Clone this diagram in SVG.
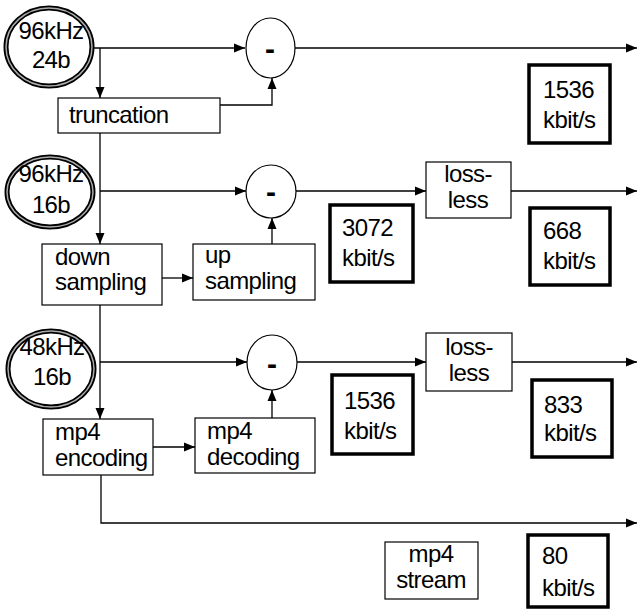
<svg xmlns="http://www.w3.org/2000/svg" width="639" height="614" viewBox="0 0 639 614">
<style>
text{font-family:"Liberation Sans",Arial,sans-serif;font-size:24px;letter-spacing:-0.6px;fill:#000}
.c{text-anchor:middle}
.box{fill:#fff;stroke:#000;stroke-width:1.2}
.rate{fill:#fff;stroke:#000;stroke-width:3.5}
.src{fill:none;stroke:#000;stroke-width:5}
.srcin{fill:none;stroke:#aaa;stroke-width:1.5}
.op{fill:#fff;stroke:#000;stroke-width:1.2}
.minus{font-weight:bold;font-size:30px;letter-spacing:0;text-anchor:middle}
.ln{fill:none;stroke:#000;stroke-width:1.3}
</style>
<defs>
<marker id="ah" markerUnits="userSpaceOnUse" markerWidth="12" markerHeight="10" refX="11" refY="5" orient="auto">
<path d="M0,0.5 L11,5 L0,9.5 Z" fill="#000"/>
</marker>
</defs>
<rect width="639" height="614" fill="#fff"/>
<g id="connectors">
<path class="ln" d="M93,48 H245" marker-end="url(#ah)"/>
<path class="ln" d="M295,48 H637" marker-end="url(#ah)"/>
<path class="ln" d="M100,48 V98" marker-end="url(#ah)"/>
<path class="ln" d="M220,105 H272 V78" marker-end="url(#ah)"/>
<path class="ln" d="M100,133 V244" marker-end="url(#ah)"/>
<path class="ln" d="M100,191 H246" marker-end="url(#ah)"/>
<path class="ln" d="M162,278 H193" marker-end="url(#ah)"/>
<path class="ln" d="M272,244 V218" marker-end="url(#ah)"/>
<path class="ln" d="M296,191 H426" marker-end="url(#ah)"/>
<path class="ln" d="M511,191 H637" marker-end="url(#ah)"/>
<path class="ln" d="M100,305 V419" marker-end="url(#ah)"/>
<path class="ln" d="M100,362 H247" marker-end="url(#ah)"/>
<path class="ln" d="M153,447 H195" marker-end="url(#ah)"/>
<path class="ln" d="M272,418 V390" marker-end="url(#ah)"/>
<path class="ln" d="M297,362 H426" marker-end="url(#ah)"/>
<path class="ln" d="M512,362 H637" marker-end="url(#ah)"/>
<path class="ln" d="M101,475 V523 H637" marker-end="url(#ah)"/>
</g>
<g id="src1">
<ellipse class="src" cx="49" cy="47" rx="43" ry="39"/>
<ellipse class="srcin" cx="49" cy="47" rx="43" ry="39"/>
<text class="c" x="51" y="39">96kHz</text>
<text class="c" x="51" y="68">24b</text>
</g>
<g id="src2">
<ellipse class="src" cx="50" cy="192" rx="43" ry="35"/>
<ellipse class="srcin" cx="50" cy="192" rx="43" ry="35"/>
<text class="c" x="51" y="182">96kHz</text>
<text class="c" x="51" y="213">16b</text>
</g>
<g id="src3">
<ellipse class="src" cx="51" cy="369" rx="43" ry="38"/>
<ellipse class="srcin" cx="51" cy="369" rx="43" ry="38"/>
<text class="c" x="52" y="355">48kHz</text>
<text class="c" x="52" y="385">16b</text>
</g>
<g id="sub1">
<ellipse class="op" cx="270.5" cy="48" rx="24.5" ry="30"/>
<text class="minus" x="270" y="59">-</text>
</g>
<g id="sub2">
<ellipse class="op" cx="271" cy="191.5" rx="25" ry="26.5"/>
<text class="minus" x="271" y="202">-</text>
</g>
<g id="sub3">
<ellipse class="op" cx="272" cy="362.5" rx="25" ry="27.5"/>
<text class="minus" x="272" y="374">-</text>
</g>
<g id="truncation">
<rect class="box" x="58" y="98" width="162" height="35"/>
<text x="69" y="123">truncation</text>
</g>
<g id="downsampling">
<rect class="box" x="42" y="244" width="120" height="61"/>
<text x="55" y="265">down</text>
<text x="55" y="290">sampling</text>
</g>
<g id="upsampling">
<rect class="box" x="193" y="244" width="122" height="56"/>
<text x="205" y="263">up</text>
<text x="205" y="289">sampling</text>
</g>
<g id="lossless1">
<rect class="box" x="426" y="162" width="85" height="56"/>
<text class="c" x="468" y="182">loss-</text>
<text class="c" x="468" y="208">less</text>
</g>
<g id="lossless2">
<rect class="box" x="426" y="333" width="86" height="58"/>
<text class="c" x="469" y="355">loss-</text>
<text class="c" x="469" y="381">less</text>
</g>
<g id="mp4encoding">
<rect class="box" x="43" y="419" width="110" height="56"/>
<text x="55" y="440">mp4</text>
<text x="55" y="466">encoding</text>
</g>
<g id="mp4decoding">
<rect class="box" x="195" y="418" width="120" height="55"/>
<text x="207" y="439">mp4</text>
<text x="207" y="465">decoding</text>
</g>
<g id="mp4stream">
<rect class="box" x="385" y="542" width="93" height="57"/>
<text class="c" x="431" y="562">mp4</text>
<text class="c" x="431" y="588">stream</text>
</g>
<g id="rate1536a">
<rect class="rate" x="529" y="65" width="81" height="78"/>
<text x="543" y="98">1536</text>
<text x="543" y="128">kbit/s</text>
</g>
<g id="rate3072">
<rect class="rate" x="330" y="205" width="83" height="77"/>
<text x="342" y="236">3072</text>
<text x="342" y="266">kbit/s</text>
</g>
<g id="rate668">
<rect class="rate" x="530" y="208" width="80" height="77"/>
<text x="543" y="239">668</text>
<text x="543" y="269">kbit/s</text>
</g>
<g id="rate1536b">
<rect class="rate" x="332" y="375" width="81" height="79"/>
<text x="344" y="409">1536</text>
<text x="344" y="439">kbit/s</text>
</g>
<g id="rate833">
<rect class="rate" x="532" y="380" width="80" height="77"/>
<text x="544" y="413">833</text>
<text x="544" y="441">kbit/s</text>
</g>
<g id="rate80">
<rect class="rate" x="528" y="535" width="80" height="72"/>
<text x="542" y="564">80</text>
<text x="542" y="596">kbit/s</text>
</g>
</svg>
